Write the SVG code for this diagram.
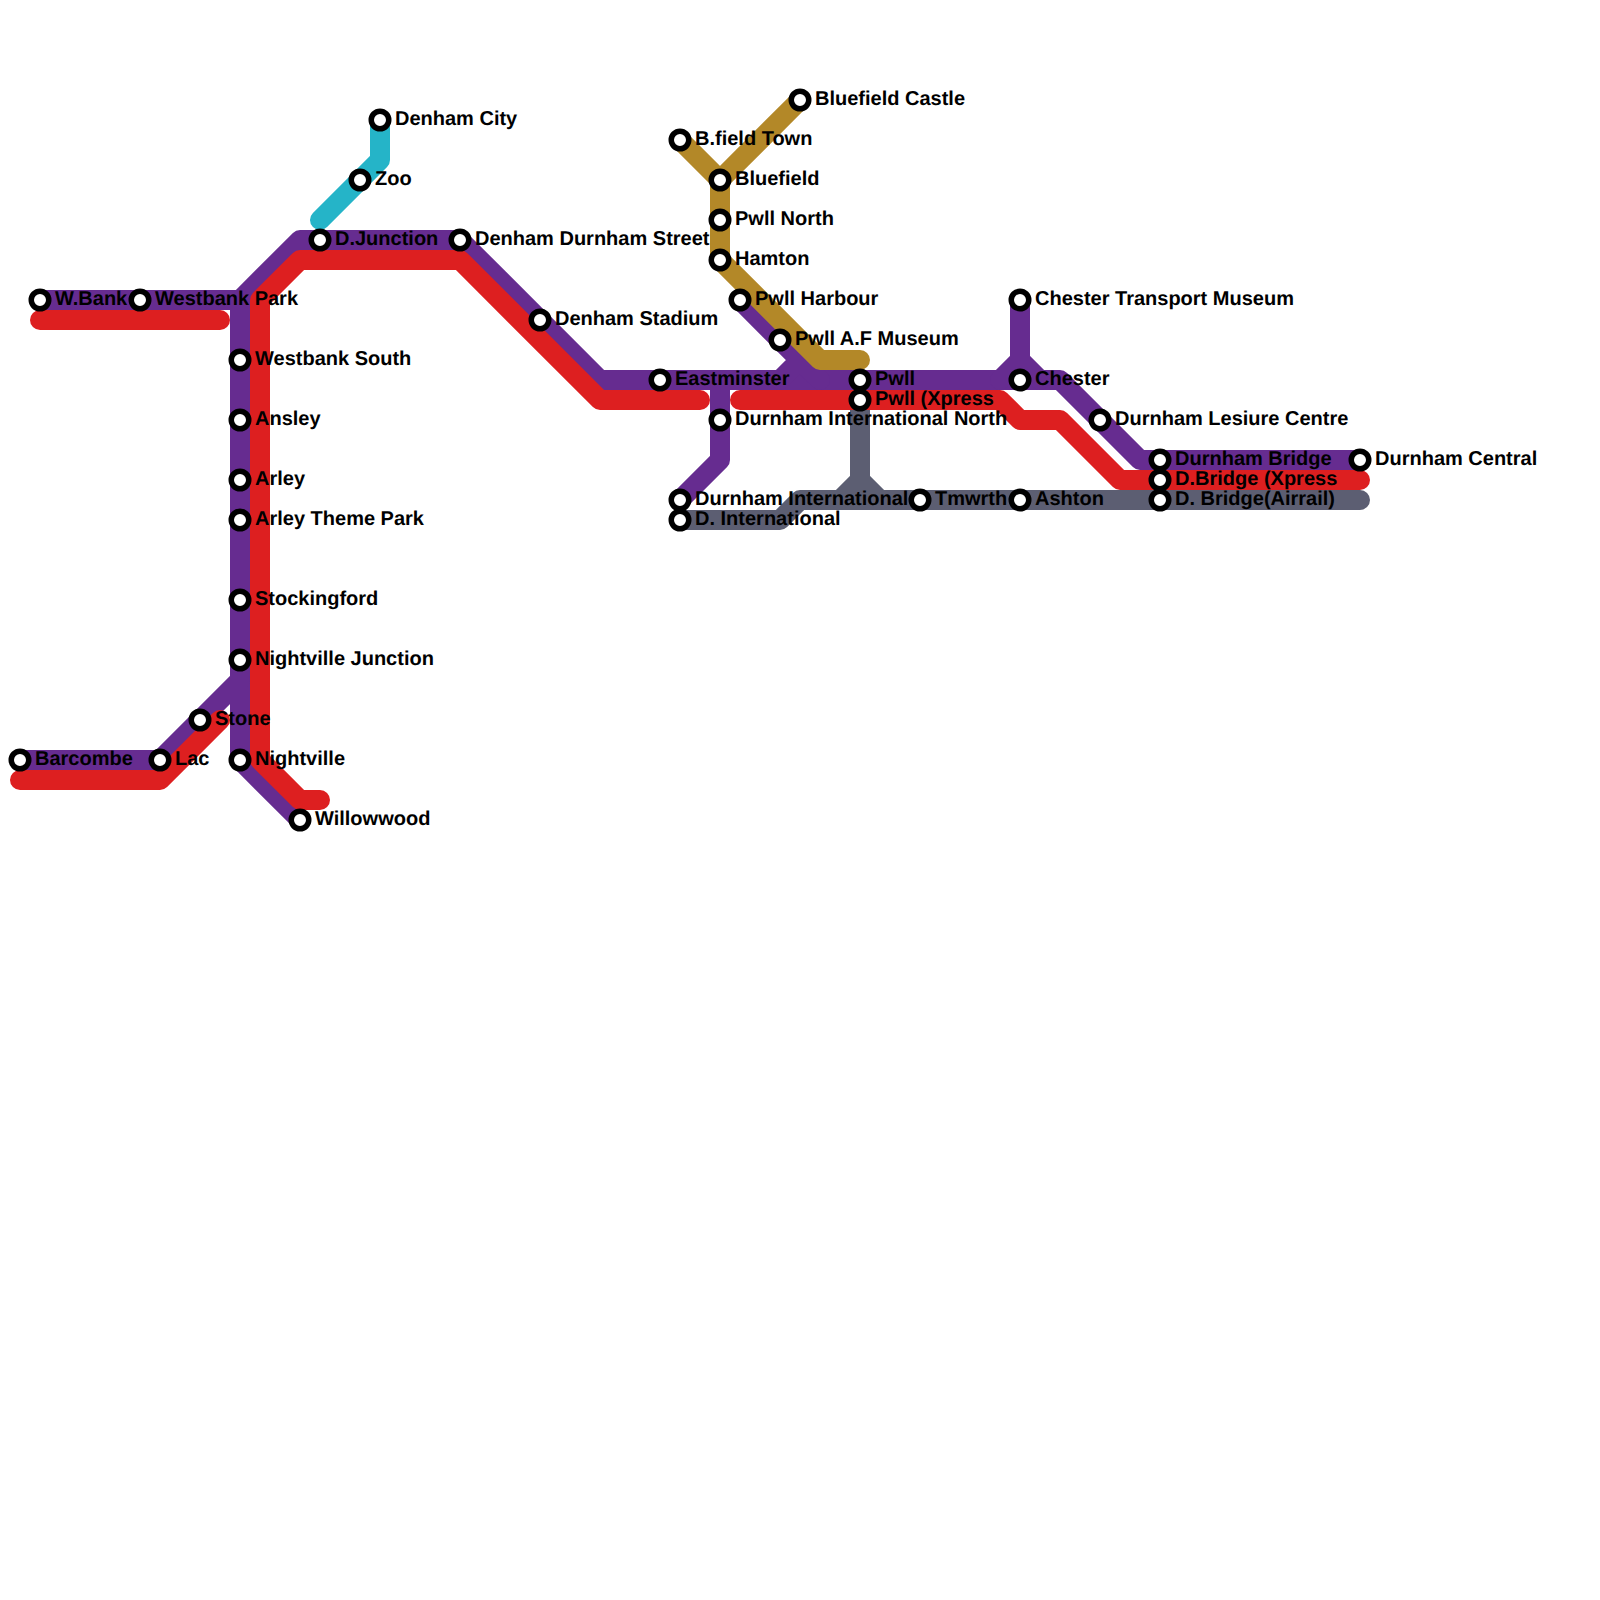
<svg xmlns="http://www.w3.org/2000/svg" width="1600" height="1600" viewBox="0 0 1600 1600">
<style>
.l{fill:none;stroke-width:20;stroke-linecap:round;stroke-linejoin:round}
.p{stroke:#662c90}.r{stroke:#dd1f20}.g{stroke:#b38828}.s{stroke:#5c5e72}.c{stroke:#25b4c8}
circle{fill:#fff;stroke:#000;stroke-width:5.5}
text{font-family:"Liberation Sans",Arial,sans-serif;font-weight:700;font-size:20px;fill:#000;text-rendering:geometricPrecision}
</style>
<rect width="1600" height="1600" fill="#fff"/>
<g id="connectors">
<path class="l c" d="M380 120V160L320 220"/>
<path class="l p" d="M40 300H240L300 240H460L600 380H1060L1140 460H1360"/>
<path class="l p" d="M240 300V760L300 820"/>
<path class="l p" d="M20 760H160L240 680"/>
<path class="l p" d="M740 300L820 380M800 360L780 380"/>
<path class="l p" d="M720 380V460L680 500"/>
<path class="l p" d="M1020 300V360L1000 380M1020 360L1040 380"/>
<path class="l s" d="M680 520H780L800 500H1360"/>
<path class="l s" d="M860 400V480L840 500M860 480L880 500"/>
<path class="l r" d="M40 320H220"/>
<path class="l r" d="M20 780H160L220 720"/>
<path class="l r" d="M320 800H300L260 760V300L300 260H460L600 400H700"/>
<path class="l r" d="M740 400H1000L1020 420H1060L1120 480H1360"/>
<path class="l g" d="M680 140L720 180M800 100L720 180V260L820 360H860"/>
</g>
<g id="n-wbank"><circle cx="40" cy="300" r="8.75"/><text x="55" y="305">W.Bank</text></g>
<g id="n-westbank-park"><circle cx="140" cy="300" r="8.75"/><text x="155" y="305">Westbank Park</text></g>
<g id="n-westbank-south"><circle cx="240" cy="360" r="8.75"/><text x="255" y="365">Westbank South</text></g>
<g id="n-ansley"><circle cx="240" cy="420" r="8.75"/><text x="255" y="425">Ansley</text></g>
<g id="n-arley"><circle cx="240" cy="480" r="8.75"/><text x="255" y="485">Arley</text></g>
<g id="n-arley-theme-park"><circle cx="240" cy="520" r="8.75"/><text x="255" y="525">Arley Theme Park</text></g>
<g id="n-stockingford"><circle cx="240" cy="600" r="8.75"/><text x="255" y="605">Stockingford</text></g>
<g id="n-nightville-junction"><circle cx="240" cy="660" r="8.75"/><text x="255" y="665">Nightville Junction</text></g>
<g id="n-stone"><circle cx="200" cy="720" r="8.75"/><text x="215" y="725">Stone</text></g>
<g id="n-barcombe"><circle cx="20" cy="760" r="8.75"/><text x="35" y="765">Barcombe</text></g>
<g id="n-lac"><circle cx="160" cy="760" r="8.75"/><text x="175" y="765">Lac</text></g>
<g id="n-nightville"><circle cx="240" cy="760" r="8.75"/><text x="255" y="765">Nightville</text></g>
<g id="n-willowwood"><circle cx="300" cy="820" r="8.75"/><text x="315" y="825">Willowwood</text></g>
<g id="n-denham-city"><circle cx="380" cy="120" r="8.75"/><text x="395" y="125">Denham City</text></g>
<g id="n-zoo"><circle cx="360" cy="180" r="8.75"/><text x="375" y="185">Zoo</text></g>
<g id="n-djunction"><circle cx="320" cy="240" r="8.75"/><text x="335" y="245">D.Junction</text></g>
<g id="n-denham-durnham-street"><circle cx="460" cy="240" r="8.75"/><text x="475" y="245">Denham Durnham Street</text></g>
<g id="n-denham-stadium"><circle cx="540" cy="320" r="8.75"/><text x="555" y="325">Denham Stadium</text></g>
<g id="n-eastminster"><circle cx="660" cy="380" r="8.75"/><text x="675" y="385">Eastminster</text></g>
<g id="n-bfield-town"><circle cx="680" cy="140" r="8.75"/><text x="695" y="145">B.field Town</text></g>
<g id="n-bluefield-castle"><circle cx="800" cy="100" r="8.75"/><text x="815" y="105">Bluefield Castle</text></g>
<g id="n-bluefield"><circle cx="720" cy="180" r="8.75"/><text x="735" y="185">Bluefield</text></g>
<g id="n-pwll-north"><circle cx="720" cy="220" r="8.75"/><text x="735" y="225">Pwll North</text></g>
<g id="n-hamton"><circle cx="720" cy="260" r="8.75"/><text x="735" y="265">Hamton</text></g>
<g id="n-pwll-harbour"><circle cx="740" cy="300" r="8.75"/><text x="755" y="305">Pwll Harbour</text></g>
<g id="n-pwll-af-museum"><circle cx="780" cy="340" r="8.75"/><text x="795" y="345">Pwll A.F Museum</text></g>
<g id="n-pwll"><circle cx="860" cy="380" r="8.75"/><text x="875" y="385">Pwll</text></g>
<g id="n-pwll-xpress"><circle cx="860" cy="400" r="8.75"/><text x="875" y="405">Pwll (Xpress</text></g>
<g id="n-durnham-international-north"><circle cx="720" cy="420" r="8.75"/><text x="735" y="425">Durnham International North</text></g>
<g id="n-durnham-international"><circle cx="680" cy="500" r="8.75"/><text x="695" y="505">Durnham International</text></g>
<g id="n-d-international"><circle cx="680" cy="520" r="8.75"/><text x="695" y="525">D. International</text></g>
<g id="n-tmwrth"><circle cx="920" cy="500" r="8.75"/><text x="935" y="505">Tmwrth</text></g>
<g id="n-ashton"><circle cx="1020" cy="500" r="8.75"/><text x="1035" y="505">Ashton</text></g>
<g id="n-chester-transport-museum"><circle cx="1020" cy="300" r="8.75"/><text x="1035" y="305">Chester Transport Museum</text></g>
<g id="n-chester"><circle cx="1020" cy="380" r="8.75"/><text x="1035" y="385">Chester</text></g>
<g id="n-durnham-lesiure-centre"><circle cx="1100" cy="420" r="8.75"/><text x="1115" y="425">Durnham Lesiure Centre</text></g>
<g id="n-durnham-bridge"><circle cx="1160" cy="460" r="8.75"/><text x="1175" y="465">Durnham Bridge</text></g>
<g id="n-dbridge-xpress"><circle cx="1160" cy="480" r="8.75"/><text x="1175" y="485">D.Bridge (Xpress</text></g>
<g id="n-dbridge-airrail"><circle cx="1160" cy="500" r="8.75"/><text x="1175" y="505">D. Bridge(Airrail)</text></g>
<g id="n-durnham-central"><circle cx="1360" cy="460" r="8.75"/><text x="1375" y="465">Durnham Central</text></g>
</svg>
